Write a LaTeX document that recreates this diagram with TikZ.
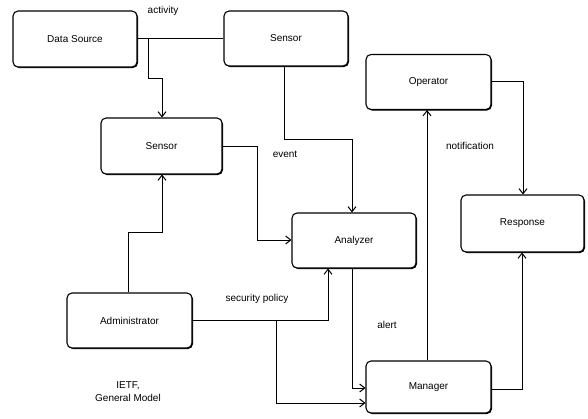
\documentclass[tikz,border=0pt]{standalone}
\usepackage{fontspec}
\setmainfont{Liberation Sans}
\usetikzlibrary{arrows.meta,shadows}
\begin{document}
\begin{tikzpicture}[x=1pt,y=-1pt,
  box/.style={draw,line width=1.1pt,rounded corners=5pt,fill=white,
    drop shadow={shadow xshift=1pt,shadow yshift=-1pt,opacity=1,fill=black},
    font=\fontsize{10}{12}\selectfont},
  conn/.style={line width=0.9pt},
  arr/.style={conn,-{Straight Barb[length=5pt,width=8pt,line width=1pt]}},
  lbl/.style={font=\fontsize{10}{12}\selectfont,inner sep=0pt}]
\useasboundingbox (0,0) rectangle (588,418);
% boxes: pos by corners
\newcommand{\mybox}[6]{\node[box,minimum width=#4-#2 pt,minimum height=#5-#3 pt,inner sep=0pt] (#1) at ({(#2+#4)/2},{(#3+#5)/2}) {#6};}
\node[box,minimum width=124pt,minimum height=56pt,inner sep=0pt] (ds) at (75,39) {Data Source};
\node[box,minimum width=124pt,minimum height=55pt,inner sep=0pt] (s1) at (286,38.5) {Sensor};
\node[box,minimum width=121pt,minimum height=56pt,inner sep=0pt] (s2) at (161.5,146) {Sensor};
\node[box,minimum width=125pt,minimum height=55pt,inner sep=0pt] (op) at (428.5,82) {Operator};
\node[box,minimum width=123pt,minimum height=57pt,inner sep=0pt] (re) at (522.5,223.5) {Response};
\node[box,minimum width=124pt,minimum height=55pt,inner sep=0pt] (an) at (354,240.5) {Analyzer};
\node[box,minimum width=125pt,minimum height=55pt,inner sep=0pt] (ad) at (129.5,320.5) {Administrator};
\node[box,minimum width=125pt,minimum height=52pt,inner sep=0pt] (ma) at (428.5,387) {Manager};
% coordinates
\coordinate (c1) at (148,38);
% connectors
\draw[conn] (ds.east |- 0,38) -- (s1.west |- 0,38);
\draw[arr] (c1) -- (148,78) -- (162,78) -- (s2.north -| 162,0);
\draw[arr] (s1.south -| 284,0) -- (284,139) -- (352,139) -- (an.north -| 352,0);
\draw[arr] (s2.east |- 0,146) -- (257,146) -- (257,240) -- (an.west |- 0,240);
\draw[arr] (ad.north -| 128,0) -- (128,232) -- (162,232) -- (s2.south -| 162,0);
\draw[arr] (ad.east |- 0,320) -- (328,320) -- (an.south -| 328,0);
\coordinate (c2) at (276,320);
\draw[arr] (c2) -- (276,403) -- (ma.west |- 0,403);
\draw[arr] (an.south -| 352,0) -- (352,388) -- (ma.west |- 0,388);
\draw[arr] (ma.north -| 427,0) -- (op.south -| 427,0);
\draw[arr] (op.east |- 0,81) -- (523,81) -- (re.north -| 523,0);
\draw[arr] (ma.east |- 0,389) -- (522,389) -- (re.south -| 522,0);
% labels
\node[lbl] (l1) at (163,11) {activity};
\node[lbl] (l2) at (285,154) {event};
\node[lbl] (l3) at (470,146) {notification};
\node[lbl] (l4) at (257,299) {security policy};
\node[lbl] (l5) at (387,325) {alert};
\node[lbl,align=center] (l6) at (128,392) {IETF,\\[1pt]General Model};
\end{tikzpicture}
\end{document}
